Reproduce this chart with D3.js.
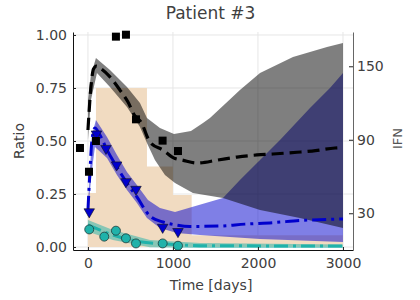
<!DOCTYPE html>
<html>
<head>
<meta charset="utf-8">
<script src="https://cdn.jsdelivr.net/npm/d3@7"></script>
<style>
  body { margin: 0; background: #fff; }
  text { font-family: "DejaVu Sans", sans-serif; }
</style>
</head>
<body>
<svg id="chart" width="420" height="300"></svg>
<script>
// treatment steps (ratio units)
const stepDays = [0, 94, 694, 1000, 1220, 3000];
const stepLevels = [0.255, 0.75, 0.38, 0.245, 0.055, 0.055];

// IFN (right axis): observations, mean line, band
const ifnObsDays = [-94, 12, 94, 329, 447, 565, 878, 1059];
const ifnObs = [83.3, 63.9, 89, 174.2, 175.8, 106.7, 89.3, 80.8];
const ifnDays = [0, 35, 65, 100, 141, 259, 376, 471, 553, 624, 729, 882, 1024, 1106, 1282, 1529, 1753, 1988, 2176, 2459, 2635, 2906, 3000];
const ifnMean = [98, 133.1, 147.8, 150.2, 148.6, 141.3, 130.6, 120.8, 109.4, 104.5, 88.2, 81.6, 74.7, 73.5, 71.0, 73.5, 75.9, 77.6, 78.4, 79.8, 80.8, 83.3, 83.7];
const ifnHiDays = [0, 35, 94, 259, 459, 612, 694, 847, 1012, 1212, 1353, 1435, 1612, 1788, 2024, 2412, 2812, 3000];
const ifnHi = [122.5, 142.9, 156.8, 147.0, 133.1, 120.0, 107.8, 99.6, 94.7, 97.2, 103.7, 107.8, 119.2, 130.6, 144.5, 157.6, 165.8, 169.0];
const ifnLoDays = [0, 35, 106, 259, 459, 612, 694, 788, 906, 1024, 1235, 1588, 2024, 2494, 3000];
const ifnLo = [89.8, 122.5, 144.5, 133.1, 116.8, 100.4, 87.4, 73.5, 61.2, 54.7, 46.5, 42.5, 32.7, 26.1, 18.0];

// blue series (ratio)
const blueObsDays = [15, 100, 212, 337, 447, 565, 879, 1059];
const blueObs = [0.166, 0.533, 0.465, 0.387, 0.308, 0.272, 0.093, 0.073];
const blueDays = [0, 24, 47, 82, 141, 224, 341, 459, 576, 729, 882, 1035, 1200, 1553, 1847, 2176, 2494, 3000];
const blueMean = [0.175, 0.363, 0.505, 0.561, 0.528, 0.458, 0.377, 0.302, 0.236, 0.146, 0.118, 0.104, 0.097, 0.099, 0.108, 0.115, 0.125, 0.132];
const blueHiDays = [0, 47, 94, 224, 341, 459, 576, 706, 847, 1024, 1224, 1588, 1788, 2024, 2259, 2612, 2847, 3000];
const blueHi = [0.198, 0.528, 0.599, 0.519, 0.434, 0.354, 0.292, 0.222, 0.184, 0.165, 0.189, 0.231, 0.316, 0.410, 0.505, 0.656, 0.750, 0.821];
const blueLoDays = [0, 47, 82, 224, 341, 459, 576, 694, 847, 1047, 1318, 2024, 3000];
const blueLo = [0.165, 0.363, 0.472, 0.420, 0.340, 0.269, 0.208, 0.137, 0.090, 0.066, 0.057, 0.038, 0.024];

// teal series (ratio)
const tealObsDays = [15, 192, 329, 447, 565, 879, 1059];
const tealObs = [0.083, 0.049, 0.077, 0.041, 0.017, 0.017, 0.006];
const tealDays = [0, 294, 612, 926, 1435, 3000];
const tealMean = [0.104, 0.057, 0.025, 0.014, 0.006, 0.005];
const tealBandDays = [0, 294, 729, 1318, 3000];
const tealHi = [0.127, 0.080, 0.033, 0.019, 0.012];
const tealLo = [0.072, 0.033, -0.001, -0.004, -0.005];

const xTicks = [0, 1000, 2000, 3000];
const yTicks = [0, 0.25, 0.5, 0.75, 1.0];
const ifnTicks = [30, 90, 150];

const svg = d3.select('#chart');
const margin = { left: 73, right: 353, top: 32, bottom: 250 };

const x = d3.scaleLinear().domain([-176, 3118]).range([margin.left, margin.right]);
const y = d3.scaleLinear().domain([-0.014, 1.014]).range([margin.bottom, margin.top]);
const yR = d3.scaleLinear().domain([0, 178]).range([margin.bottom, margin.top]);

// grid
svg.append('g').selectAll('line').data(xTicks).join('line')
    .attr('x1', d => x(d)).attr('x2', d => x(d))
    .attr('y1', margin.top).attr('y2', margin.bottom)
    .attr('stroke', '#e6e6e6');
svg.append('g').selectAll('line').data(yTicks).join('line')
    .attr('x1', margin.left).attr('x2', margin.right)
    .attr('y1', d => y(d)).attr('y2', d => y(d))
    .attr('stroke', '#e6e6e6');

// treatment steps
svg.append('path')
    .datum(d3.zip(stepDays, stepLevels))
    .attr('d', d3.area().curve(d3.curveStepAfter)
        .x(d => x(d[0])).y0(y(0)).y1(d => y(d[1])))
    .attr('fill', '#f1dbc1');

function band(hiDays, hi, loDays, lo, ys) {
    const up = d3.zip(hiDays, hi);
    const down = d3.zip(loDays, lo).reverse();
    return d3.line().x(d => x(d[0])).y(d => ys(d[1]))(up.concat(down)) + 'Z';
}

svg.append('path')
    .attr('d', band(blueHiDays, blueHi, blueLoDays, blueLo, y))
    .attr('fill', '#0000cd').attr('fill-opacity', 0.5);
svg.append('path')
    .attr('d', band(tealBandDays, tealHi, tealBandDays, tealLo, y))
    .attr('fill', '#20b2aa').attr('fill-opacity', 0.5);
svg.append('path')
    .attr('d', band(ifnHiDays, ifnHi, ifnLoDays, ifnLo, yR))
    .attr('fill', '#000').attr('fill-opacity', 0.5);

// lines
const lineOf = ys => d3.line().curve(d3.curveMonotoneX).x(d => x(d[0])).y(d => ys(d[1]));

svg.append('path').datum(d3.zip(tealDays, tealMean))
    .attr('d', lineOf(y)).attr('fill', 'none')
    .attr('stroke', '#20b2aa').attr('stroke-width', 3)
    .attr('stroke-dasharray', '14,5,3,5');
svg.append('path').datum(d3.zip(blueDays, blueMean))
    .attr('d', lineOf(y)).attr('fill', 'none')
    .attr('stroke', '#0000cd').attr('stroke-width', 3)
    .attr('stroke-dasharray', '14,5,3,5');
svg.append('path').datum(d3.zip(ifnDays, ifnMean))
    .attr('d', lineOf(yR)).attr('fill', 'none')
    .attr('stroke', '#000').attr('stroke-width', 3.2)
    .attr('stroke-dasharray', '12,6');

// markers
svg.append('g').selectAll('circle').data(d3.zip(tealObsDays, tealObs)).join('circle')
    .attr('cx', d => x(d[0])).attr('cy', d => y(d[1])).attr('r', 4.5)
    .attr('fill', '#20b2aa').attr('stroke', '#1e3b3a').attr('stroke-width', 0.8);

const tri = d3.symbol(d3.symbolTriangle, 48);
svg.append('g').selectAll('path').data(d3.zip(blueObsDays, blueObs)).join('path')
    .attr('d', tri)
    .attr('transform', d => `translate(${x(d[0])},${y(d[1])}) rotate(180)`)
    .attr('fill', '#0000cd').attr('stroke', '#111').attr('stroke-width', 0.6);

svg.append('g').selectAll('rect').data(d3.zip(ifnObsDays, ifnObs)).join('rect')
    .attr('x', d => x(d[0]) - 4).attr('y', d => yR(d[1]) - 4)
    .attr('width', 8).attr('height', 8)
    .attr('fill', '#000');

// axes
const fmt = d3.format('.2f');
const gL = svg.append('g').attr('transform', `translate(${margin.left},0)`)
    .call(d3.axisLeft(y).tickValues(yTicks).tickFormat(fmt).tickSize(-3).tickSizeOuter(0).tickPadding(6));
const gB = svg.append('g').attr('transform', `translate(0,${margin.bottom})`)
    .call(d3.axisBottom(x).tickValues(xTicks).tickFormat(d3.format('d')).tickSize(-3).tickSizeOuter(0).tickPadding(8));
const gR = svg.append('g').attr('transform', `translate(${margin.right},0)`)
    .call(d3.axisRight(yR).tickValues(ifnTicks).tickSize(-4).tickSizeOuter(0).tickPadding(4));

[gL, gB, gR].forEach(g => {
    g.selectAll('text').attr('font-size', 14).attr('fill', '#404040')
        .style('font-family', '"DejaVu Sans", sans-serif');
    g.selectAll('.tick line').attr('stroke', '#222');
});
gL.select('.domain').attr('stroke', '#111');
gB.select('.domain').attr('stroke', '#111');
gR.select('.domain').attr('stroke', '#666');

// labels
svg.append('text').attr('x', 210.5).attr('y', 18.5).attr('text-anchor', 'middle')
    .attr('font-size', 17).attr('fill', '#404040').text('Patient #3');
svg.append('text').attr('x', 211).attr('y', 290).attr('text-anchor', 'middle')
    .attr('font-size', 14).attr('fill', '#404040').text('Time [days]');
svg.append('text').attr('transform', 'translate(23.5,141) rotate(-90)').attr('text-anchor', 'middle')
    .attr('font-size', 14).attr('fill', '#404040').text('Ratio');
svg.append('text').attr('transform', 'translate(401.5,138.5) rotate(-90)').attr('text-anchor', 'middle')
    .attr('font-size', 13).attr('fill', '#555').text('IFN');
</script>
</body>
</html>
